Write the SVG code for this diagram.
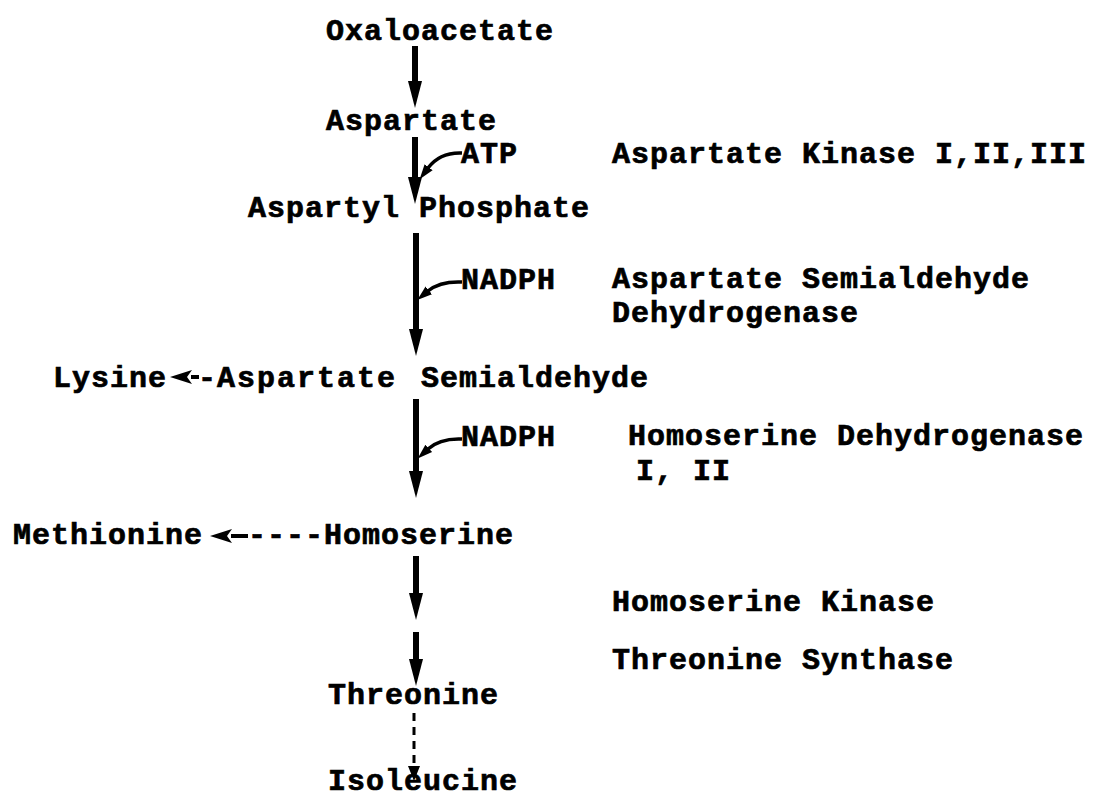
<svg xmlns="http://www.w3.org/2000/svg" width="1105" height="799" viewBox="0 0 1105 799">
<style>
text{font-family:"Liberation Mono","DejaVu Sans Mono",monospace;font-weight:bold;font-size:30px;letter-spacing:1px;fill:#000;stroke:#000;stroke-width:0.7px}
.main{stroke:#000;stroke-width:6;fill:none}
.co{stroke:#000;stroke-width:3.5;fill:none}
.side{stroke:#000;stroke-width:4;fill:none}
.dash{stroke:#000;stroke-width:3;fill:none;stroke-dasharray:8,6}
</style>
<defs>
<marker id="big" markerUnits="userSpaceOnUse" markerWidth="30" markerHeight="18" refX="1" refY="9" orient="auto" viewBox="0 0 30 18"><path d="M0,2 L27,9 L0,16 z" fill="#000"/></marker>
<marker id="small" markerUnits="userSpaceOnUse" markerWidth="16" markerHeight="12" refX="1" refY="6" orient="auto" viewBox="0 0 16 12"><path d="M0,1 L15,6 L0,11 z" fill="#000"/></marker>
<marker id="side" markerUnits="userSpaceOnUse" markerWidth="26" markerHeight="16" refX="1" refY="8" orient="auto" viewBox="0 0 26 16"><path d="M0,1 L22,8 L0,15 L5,8 z" fill="#000"/></marker>
<marker id="dot" markerUnits="userSpaceOnUse" markerWidth="16" markerHeight="14" refX="1" refY="7" orient="auto" viewBox="0 0 16 14"><path d="M0,1 L15,7 L0,13 z" fill="#000"/></marker>
</defs>
<g id="n-oxaloacetate"><text x="326" y="40">Oxaloacetate</text></g>
<g id="n-aspartate"><text x="326" y="130">Aspartate</text></g>
<g id="n-atp"><text x="461" y="163">ATP</text></g>
<g id="n-enz1"><text x="612" y="163">Aspartate Kinase I,II,III</text></g>
<g id="n-aspartylp"><text x="248" y="217">Aspartyl Phosphate</text></g>
<g id="n-nadph1"><text x="461" y="289">NADPH</text></g>
<g id="n-enz2"><text><tspan x="612" y="288">Aspartate Semialdehyde</tspan><tspan x="612" y="322">Dehydrogenase</tspan></text></g>
<g id="n-lysine"><text x="53" y="387">Lysine</text></g>
<g id="n-asa"><text><tspan x="198" y="387">-</tspan><tspan x="217" y="387" style="letter-spacing:2px">Aspartate</tspan><tspan x="421" y="387">Semialdehyde</tspan></text></g>
<g id="n-nadph2"><text x="461" y="446">NADPH</text></g>
<g id="n-enz3"><text><tspan x="628" y="445">Homoserine Dehydrogenase</tspan><tspan x="636" y="480">I, II</tspan></text></g>
<g id="n-methionine"><text x="13" y="544">Methionine</text></g>
<g id="n-homoserine"><text x="248" y="544">----Homoserine</text></g>
<g id="n-enz4"><text x="612" y="611">Homoserine Kinase</text></g>
<g id="n-enz5"><text x="612" y="669">Threonine Synthase</text></g>
<g id="n-threonine"><text x="328" y="704">Threonine</text></g>
<g id="n-isoleucine"><text x="328" y="790">Isoleucine</text></g>
<g id="connectors">
<path class="main" d="M415,46 V82" marker-end="url(#big)"/>
<path class="main" d="M415,137 V178" marker-end="url(#big)"/>
<path class="co" d="M462,153 Q440,152 428,168" marker-end="url(#small)"/>
<path class="main" d="M416,233 V330" marker-end="url(#big)"/>
<path class="co" d="M462,282 Q440,281 428,291" marker-end="url(#small)"/>
<path class="main" d="M416,399 V472" marker-end="url(#big)"/>
<path class="co" d="M462,439 Q440,438 428,449" marker-end="url(#small)"/>
<path class="side" d="M199,377 H191" marker-end="url(#side)"/>
<path class="side" d="M248,536 H231" marker-end="url(#side)"/>
<path class="main" d="M416,556 V594" marker-end="url(#big)"/>
<path class="main" d="M416,632 V660" marker-end="url(#big)"/>
<path class="dash" d="M414,713 V767" marker-end="url(#dot)"/>
</g>
</svg>
